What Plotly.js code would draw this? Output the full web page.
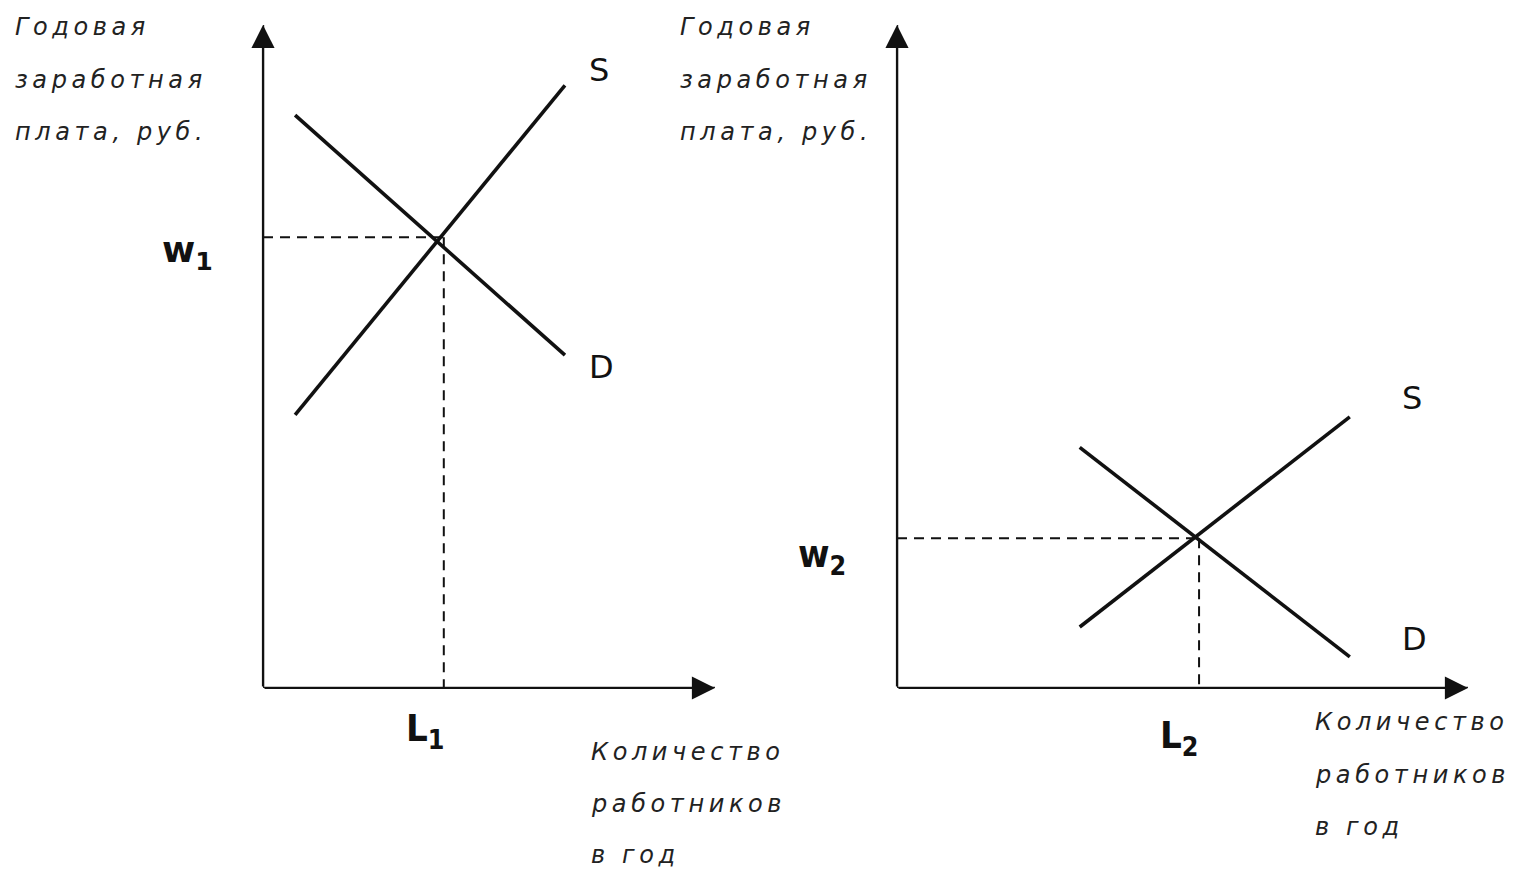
<!DOCTYPE html>
<html><head><meta charset="utf-8">
<script src="https://cdn.plot.ly/plotly-3.0.1.min.js"></script>
<style>html,body{margin:0;padding:0;background:#fff}</style>
</head><body>
<div id="chart" style="width:1526px;height:870px"></div>
<script>
// Panel 1 (left) data, axis units 0..10
const s1x = [0.71, 6.68], s1y = [4.12, 9.09];
const d1x = [0.71, 6.68], d1y = [8.64, 5.02];
const w1 = 6.8, L1 = 4.0;
// Panel 2 (right)
const s2x = [3.2, 7.93], s2y = [0.92, 4.09];
const d2x = [3.2, 7.93], d2y = [3.63, 0.47];
const w2 = 2.26, L2 = 5.29;
const yTitleLines = ["Годовая", "заработная", "плата, руб."];
const xTitleLines = ["Количество", "работников", "в год"];
const axMax = 10;

const W = 1526, H = 870;
const px = x => x / W, py = y => 1 - y / H;

const solid = {color: '#111', width: 3.6};
const dash = {color: '#111', width: 2, dash: '10px,7px'};
function tr(x, y, xa, ya, line) {
  return {x: x, y: y, xaxis: xa, yaxis: ya, mode: 'lines', line: line, hoverinfo: 'skip', showlegend: false};
}
const data = [
  tr([0, L1], [w1, w1], 'x', 'y', dash),
  tr([L1, L1], [w1, 0], 'x', 'y', dash),
  tr([0, L2], [w2, w2], 'x2', 'y2', dash),
  tr([L2, L2], [w2, 0], 'x2', 'y2', dash),
  tr(s1x, s1y, 'x', 'y', solid),
  tr(d1x, d1y, 'x', 'y', solid),
  tr(s2x, s2y, 'x2', 'y2', solid),
  tr(d2x, d2y, 'x2', 'y2', solid)
];

const ann = [];
function arrow(xr, yr, x, y) {
  ann.push({xref: xr, yref: yr, axref: xr, ayref: yr, x: x, y: y, ax: 0, ay: 0,
    showarrow: true, arrowhead: 2, arrowsize: 2.1, arrowwidth: 2.2, arrowcolor: '#111', text: ''});
}
arrow('x', 'y', axMax, 0); arrow('x', 'y', 0, axMax);
arrow('x2', 'y2', axMax, 0); arrow('x2', 'y2', 0, axMax);

const lab = {family: 'DejaVu Sans', size: 32, color: '#111'};
function label(xr, yr, x, y, t, f, xa, xs, ys) {
  ann.push({xref: xr, yref: yr, x: x, y: y, text: t, showarrow: false, font: f || lab,
    xanchor: xa || 'center', yanchor: 'middle', xshift: xs, yshift: ys});
}
label('x', 'y', s1x[1], s1y[1], 'S', null, 'left', 22, 15);
label('x', 'y', d1x[1], d1y[1], 'D', null, 'left', 22, -12);
label('x2', 'y2', s2x[1], s2y[1], 'S', null, 'left', 50, 19);
label('x2', 'y2', d2x[1], d2y[1], 'D', null, 'left', 50, 18);

const wl = {family: 'DejaVu Sans', size: 36, color: '#111', weight: 'bold'};
const cond = {family: 'DejaVu Sans Condensed, Liberation Sans Narrow, DejaVu Sans', size: 38, color: '#111', weight: 'bold'};
label('x', 'y', 0, w1, 'w<sub>1</sub>', wl, 'right', -48, -15);
label('x2', 'y2', 0, w2, 'w<sub>2</sub>', cond, 'right', -49, -18);
label('x', 'y', L1, 0, 'L<sub>1</sub>', cond, 'center', -19, -42);
label('x2', 'y2', L2, 0, 'L<sub>2</sub>', cond, 'center', -20, -49);

const it = {family: 'DejaVu Sans', size: 24, color: '#222', style: 'italic'};
function lines(arr, x0, y0, dy) {
  arr.forEach((t, i) => ann.push({xref: 'paper', yref: 'paper', x: px(x0), y: py(y0 + i * dy),
    text: '<span style="letter-spacing:4.6px">' + t + '</span>',
    showarrow: false, font: it, xanchor: 'left', yanchor: 'middle'}));
}
lines(yTitleLines, 13, 27, 52.5);
lines(yTitleLines, 678, 27, 52.5);
lines(xTitleLines, 589, 752, 51.5);
lines(xTitleLines, 1313, 722, 52.5);

const hid = {visible: false, range: [0, axMax], fixedrange: true};
const axl = {color: '#222', width: 2.4};
const layout = {
  width: W, height: H, margin: {l: 0, r: 0, t: 0, b: 0},
  paper_bgcolor: '#fff', plot_bgcolor: 'rgba(0,0,0,0)', showlegend: false,
  xaxis: Object.assign({}, hid, {domain: [px(263), px(715)], anchor: 'y'}),
  yaxis: Object.assign({}, hid, {domain: [py(688), py(25)], anchor: 'x'}),
  xaxis2: Object.assign({}, hid, {domain: [px(897), px(1468)], anchor: 'y2'}),
  yaxis2: Object.assign({}, hid, {domain: [py(688), py(25)], anchor: 'x2'}),
  annotations: ann,
  shapes: [
    {type: 'line', xref: 'x', yref: 'y', x0: 0, y0: 0, x1: axMax, y1: 0, line: axl},
    {type: 'line', xref: 'x', yref: 'y', x0: 0, y0: 0, x1: 0, y1: axMax, line: axl},
    {type: 'line', xref: 'x2', yref: 'y2', x0: 0, y0: 0, x1: axMax, y1: 0, line: axl},
    {type: 'line', xref: 'x2', yref: 'y2', x0: 0, y0: 0, x1: 0, y1: axMax, line: axl}
  ]
};
Plotly.newPlot('chart', data, layout, {displayModeBar: false, staticPlot: true});
</script>
</body></html>
